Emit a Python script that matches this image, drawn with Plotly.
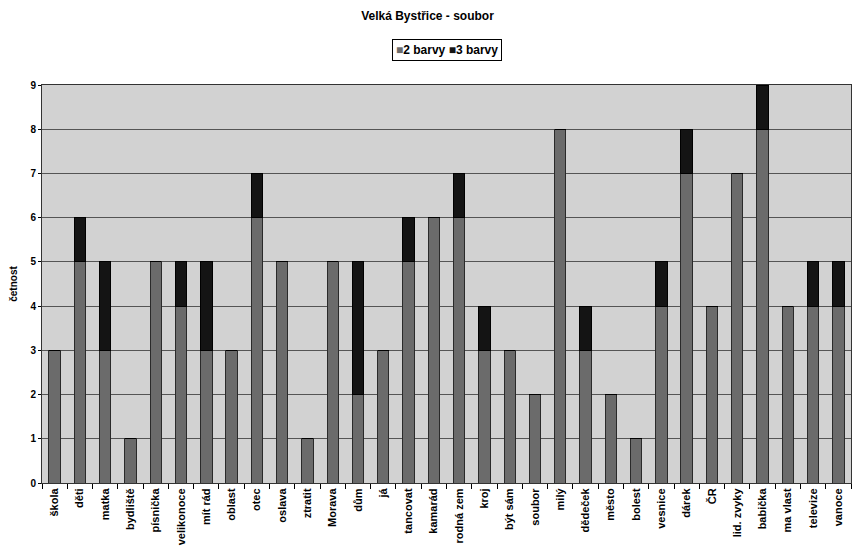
import plotly.graph_objects as go

categories = [
    "škola", "děti", "matka", "bydliště", "písnička", "velikonoce", "mít rád",
    "oblast", "otec", "oslava", "ztratit", "Morava", "dům", "já", "tancovat",
    "kamarád", "rodná zem", "kroj", "být sám", "soubor", "milý", "dědeček",
    "město", "bolest", "vesnice", "dárek", "ČR", "lid. zvyky", "babička",
    "ma vlast", "televize", "vanoce",
]
dve_barvy = [3, 5, 3, 1, 5, 4, 3, 3, 6, 5, 1, 5, 2, 3, 5, 6,
             6, 3, 3, 2, 8, 3, 2, 1, 4, 7, 4, 7, 8, 4, 4, 4]
tri_barvy = [0, 1, 2, 0, 0, 1, 2, 0, 1, 0, 0, 0, 3, 0, 1, 0,
             1, 1, 0, 0, 0, 1, 0, 0, 1, 1, 0, 0, 1, 0, 1, 1]

FONT = "Liberation Sans, Arial, sans-serif"
C2 = "#6b6b6b"
C3 = "#141414"

fig = go.Figure()
fig.add_trace(go.Bar(
    x=categories, y=dve_barvy, name="2 barvy",
    marker=dict(color=C2, line=dict(color="#2a2a2a", width=1)),
    width=0.45,
))
fig.add_trace(go.Bar(
    x=categories, y=tri_barvy, name="3 barvy",
    marker=dict(color=C3, line=dict(color="#000000", width=1)),
    width=0.45,
))

# compact legend box like the original (square + label)
legend_text = (
    f"<span style='color:{C2}'>■</span><b>2 barvy</b> "
    f"<span style='color:{C3}'>■</span><b>3 barvy</b>"
)
fig.add_annotation(
    text=legend_text, xref="paper", yref="paper", x=0.5, y=1.088,
    xanchor="center", yanchor="middle", showarrow=False,
    font=dict(size=12), bordercolor="black", borderwidth=1,
    borderpad=3, bgcolor="white",
)

fig.update_layout(
    width=855, height=559,
    barmode="stack",
    paper_bgcolor="white",
    plot_bgcolor="#d2d2d2",
    margin=dict(l=42, r=4, t=85, b=76),
    font=dict(family=FONT, size=10, color="black"),
    title=dict(
        text="<b>Velká Bystřice - soubor</b>",
        x=0.5, xanchor="center", y=0.972, yanchor="middle",
        font=dict(size=12),
    ),
    showlegend=False,
)
fig.update_yaxes(
    range=[0, 9], dtick=1,
    showgrid=True, gridcolor="#555555", gridwidth=1,
    showline=True, linecolor="#333333", mirror=True,
    ticks="outside", ticklen=3, tickcolor="black",
    tickfont=dict(size=10, family=FONT),
    tickprefix="<b>", ticksuffix="</b>",
    title=dict(text="<b>četnost</b>", font=dict(size=10), standoff=10),
    zeroline=False,
)
fig.update_xaxes(
    tickangle=-90,
    showline=True, linecolor="#333333", mirror=True,
    ticks="outside", ticklen=5, tickcolor="black", tickson="boundaries",
    tickfont=dict(size=11, family=FONT),
    tickprefix="<b>", ticksuffix="</b>",
    showgrid=False,
)

fig.write_html(
    "out.html",
    config={"displayModeBar": False},
    post_script="document.body.style.margin='0';document.body.style.overflow='hidden';",
)
